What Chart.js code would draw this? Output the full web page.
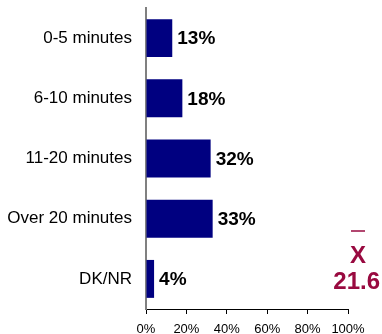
<!DOCTYPE html>
<html>
<head>
<meta charset="utf-8">
<script src="https://cdn.jsdelivr.net/npm/chart.js@4"></script>
<style>
  html, body { margin: 0; padding: 0; background: #fff; }
  #wrap { width: 382px; height: 334px; }
</style>
</head>
<body>
<div id="wrap"><canvas id="commuteTime"></canvas></div>
<script>
const categories = ['0-5 minutes', '6-10 minutes', '11-20 minutes', 'Over 20 minutes', 'DK/NR'];
const shares = [13, 18, 32, 33, 4];
const tickValues = [0, 20, 40, 60, 80, 100];
const meanMinutes = '21.6';

const ctxCommuteTime = document.getElementById('commuteTime');

// percent labels at the end of each bar
const barValueLabels = {
    id: 'barValueLabels',
    afterDatasetsDraw(chart) {
        const ctx = chart.ctx;
        const meta = chart.getDatasetMeta(0);
        ctx.save();
        ctx.font = 'bold 19px "Liberation Sans", Arial, sans-serif';
        ctx.fillStyle = '#000';
        ctx.textAlign = 'left';
        ctx.textBaseline = 'middle';
        meta.data.forEach((bar, i) => {
            ctx.fillText(shares[i] + '%', bar.x + 5, bar.y + 1);
        });
        ctx.restore();
    }
};

// mean (x-bar) note in the lower right corner
const meanNote = {
    id: 'meanNote',
    afterDraw(chart) {
        const ctx = chart.ctx;
        ctx.save();
        ctx.fillStyle = '#990a40';
        ctx.strokeStyle = '#990a40';
        ctx.font = 'bold 24px "Liberation Sans", Arial, sans-serif';
        ctx.textAlign = 'center';
        ctx.textBaseline = 'middle';
        ctx.fillText('X', 358, 256);
        ctx.lineWidth = 1.5;
        ctx.beginPath();
        ctx.moveTo(351, 231);
        ctx.lineTo(365, 231);
        ctx.stroke();
        ctx.textAlign = 'right';
        ctx.fillText(meanMinutes, 380, 282);
        ctx.restore();
    }
};

const dataCommuteTime = {
    labels: categories,
    datasets: [{
        data: shares,
        backgroundColor: '#000080',
        borderWidth: 0,
        barPercentage: 0.63,
        categoryPercentage: 1
    }]
};

const configCommuteTime = {
    type: 'bar',
    data: dataCommuteTime,
    plugins: [barValueLabels, meanNote],
    options: {
        indexAxis: 'y',
        responsive: true,
        maintainAspectRatio: false,
        animation: false,
        layout: {
            padding: { top: 8, right: 34, bottom: 0, left: 0 }
        },
        plugins: {
            legend: { display: false },
            tooltip: { enabled: false }
        },
        scales: {
            x: {
                min: 0,
                max: 100,
                afterBuildTicks: (scale) => {
                    scale.ticks = tickValues.map(v => ({ value: v }));
                },
                afterFit: (scale) => { scale.height = 25; },
                border: { display: true, color: '#000', width: 1 },
                grid: {
                    drawOnChartArea: false,
                    drawTicks: true,
                    tickLength: 5,
                    color: '#000'
                },
                ticks: {
                    padding: 8,
                    color: '#000',
                    font: { family: '"Liberation Sans", Arial, sans-serif', size: 13 },
                    maxRotation: 0,
                    callback: (v) => v + '%'
                }
            },
            y: {
                afterFit: (scale) => {
                    scale.width = 146;
                    scale.paddingTop = 0;
                    scale.paddingBottom = 0;
                },
                border: { display: true, color: '#808080', width: 2 },
                grid: { display: false },
                ticks: {
                    padding: 6,
                    color: '#000',
                    font: { family: '"Liberation Sans", Arial, sans-serif', size: 17 }
                }
            }
        }
    }
};

const barChartCommuteTime = new Chart(
    ctxCommuteTime,
    configCommuteTime
);
</script>
</body>
</html>
